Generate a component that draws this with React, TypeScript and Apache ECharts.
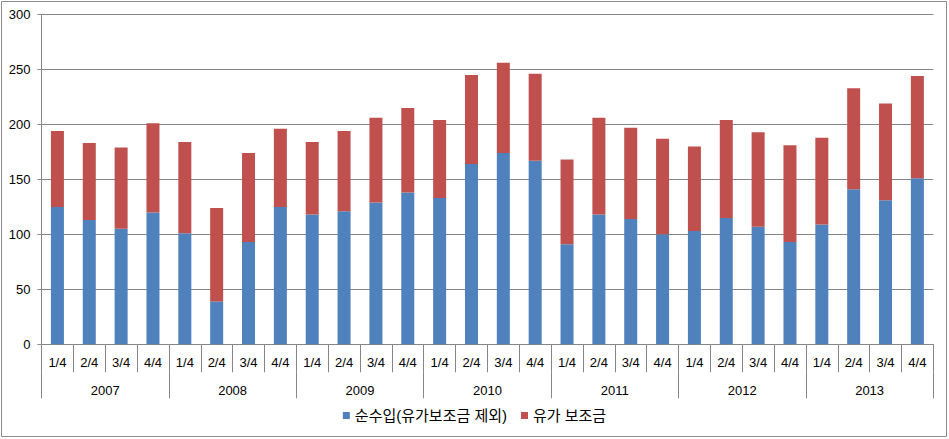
import React, { useEffect, useRef } from "react";
import * as echarts from "echarts";

const quarters = [
  "1/4","2/4","3/4","4/4","1/4","2/4","3/4","4/4","1/4","2/4","3/4","4/4","1/4","2/4",
  "3/4","4/4","1/4","2/4","3/4","4/4","1/4","2/4","3/4","4/4","1/4","2/4","3/4","4/4",
];
const years = ["2007", "2008", "2009", "2010", "2011", "2012", "2013"];
const netIncome = [
  125, 113, 105, 120, 101, 39, 93, 125, 118, 121, 129, 138, 133, 164,
  174, 167, 91, 118, 114, 100, 103, 115, 107, 93, 109, 141, 131, 151,
];
const subsidy = [
  69, 70, 74, 81, 83, 85, 81, 71, 66, 73, 77, 77, 71, 81,
  82, 79, 77, 88, 83, 87, 77, 89, 86, 88, 79, 92, 88, 93,
];
const seriesNames = ["순수입(유가보조금 제외)", "유가 보조금"];
const yTicks = { min: 0, max: 300, interval: 50 };

const FONT = "Liberation Sans, Noto Sans CJK KR, sans-serif";

export default function App() {
  const ref = useRef<HTMLDivElement>(null);
  useEffect(() => {
    if (!ref.current) return;
    const chart = echarts.init(ref.current, null, { renderer: "svg" });
    chart.setOption({
      animation: false,
      textStyle: { fontFamily: FONT },
      graphic: [
        {
          type: "rect",
          shape: { x: 1.5, y: 1.5, width: 945, height: 435 },
          style: { fill: "none", stroke: "#8c8c8c", lineWidth: 1 },
          silent: true,
        },
      ],
      grid: { left: 41.5, right: 15.7, top: 14.5, bottom: 94.7 },
      legend: {
        bottom: 11,
        left: "center",
        icon: "rect",
        itemWidth: 7,
        itemHeight: 7,
        itemGap: 14,
        textStyle: { fontSize: 15, color: "#000", fontFamily: FONT },
        data: seriesNames,
      },
      xAxis: [
        {
          type: "category",
          data: quarters,
          position: "bottom",
          axisLine: { show: true, lineStyle: { color: "#868686" } },
          axisTick: { show: true, interval: 0, length: 28, lineStyle: { color: "#868686" } },
          axisLabel: { interval: 0, margin: 12, fontSize: 13, color: "#000" },
        },
        {
          type: "category",
          data: years,
          position: "bottom",
          offset: 28,
          axisLine: { show: false },
          axisTick: { show: true, interval: 0, length: 26, lineStyle: { color: "#868686" } },
          axisLabel: { interval: 0, margin: 12, fontSize: 13, color: "#000" },
        },
      ],
      yAxis: {
        type: "value",
        min: yTicks.min,
        max: yTicks.max,
        interval: yTicks.interval,
        axisLine: { show: true, lineStyle: { color: "#868686" } },
        axisTick: { show: true, length: 4, lineStyle: { color: "#868686" } },
        axisLabel: { margin: 11, fontSize: 13, color: "#000" },
        splitLine: { show: true, lineStyle: { color: "#868686" } },
      },
      series: [
        {
          name: seriesNames[0],
          type: "bar",
          stack: "total",
          xAxisIndex: 0,
          barWidth: 13,
          itemStyle: { color: "#4F81BD" },
          data: netIncome,
        },
        {
          name: seriesNames[1],
          type: "bar",
          stack: "total",
          xAxisIndex: 0,
          barWidth: 13,
          itemStyle: { color: "#C0504D" },
          data: subsidy,
        },
      ],
    });
    return () => chart.dispose();
  }, []);
  return (
    <div
      ref={ref}
      style={{ position: "fixed", left: 0, top: 0, width: 949, height: 439, background: "#fff" }}
    />
  );
}
